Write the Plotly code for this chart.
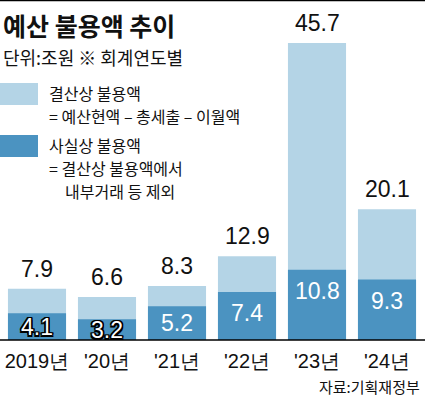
import plotly.graph_objects as go

categories = ["2019년", "'20년", "'21년", "'22년", "'23년", "'24년"]
settled = [7.9, 6.6, 8.3, 12.9, 45.7, 20.1]
actual = [4.1, 3.2, 5.2, 7.4, 10.8, 9.3]
outlined = [True, True, False, False, False, False]

legend_lines = [
    ("결산상 불용액", 48, 92.5),
    ("= 예산현액 – 총세출 – 이월액", 48, 116),
    ("사실상 불용액", 48, 144.5),
    ("= 결산상 불용액에서", 48, 168),
    ("내부거래 등 제외", 64, 191.5),
]

LIGHT = "#B4D4E6"
DARK = "#4B93C1"
NUM_FONT = "Liberation Sans Narrow, Arial Narrow, Liberation Sans, Arial, sans-serif"
KR_FONT = "Noto Sans CJK KR, sans-serif"

W, H = 425, 397
ML, MR, MT, MB = 2, 3, 15, 57
PW, PH = W - ML - MR, H - MT - MB


def px(x):
    return (x - ML) / PW


def py(y):
    return (H - MB - y) / PH


fig = go.Figure()
fig.add_trace(go.Bar(x=categories, y=settled, marker=dict(color=LIGHT, line=dict(width=0)),
                     hoverinfo="skip"))
fig.add_trace(go.Bar(x=categories, y=actual, marker=dict(color=DARK, line=dict(width=0)),
                     hoverinfo="skip"))

ann = []
for c, s, a, o in zip(categories, settled, actual, outlined):
    ann.append(dict(x=c, y=s, xref="x", yref="y", text=f"{s}", showarrow=False,
                    yanchor="bottom", yshift=5,
                    font=dict(family=NUM_FONT, size=23, color="#111")))
    shadow = ("-1.5px -1.5px 0 #000, 1.5px -1.5px 0 #000, -1.5px 1.5px 0 #000, 1.5px 1.5px 0 #000,"
              " 0 1.5px 0 #000, 0 -1.5px 0 #000, 1.5px 0 0 #000, -1.5px 0 0 #000") if o else "none"
    ann.append(dict(x=c, y=max(a / 2, a - 3.3), xref="x", yref="y", text=f"{a}", showarrow=False,
                    yanchor="middle",
                    font=dict(family=NUM_FONT, size=23, color="white", shadow=shadow)))

ann += [
    dict(x=px(1), y=py(25), xref="paper", yref="paper", text="<b>예산 불용액 추이</b>", showarrow=False,
         xanchor="left", yanchor="middle", font=dict(family=KR_FONT, size=25, color="#111")),
    dict(x=px(1), y=py(57), xref="paper", yref="paper", text="단위:조원 ※ 회계연도별", showarrow=False,
         xanchor="left", yanchor="middle", font=dict(family=KR_FONT, size=18, color="#111")),
    dict(x=px(422), y=py(386), xref="paper", yref="paper", text="자료:기획재정부", showarrow=False,
         xanchor="right", yanchor="middle", font=dict(family=KR_FONT, size=15, color="#111")),
]
for txt, lx, ly in legend_lines:
    ann.append(dict(x=px(lx), y=py(ly), xref="paper", yref="paper", text=txt, showarrow=False,
                    xanchor="left", yanchor="middle", borderpad=0,
                    font=dict(family=KR_FONT, size=16, color="#111")))

shapes = [
    dict(type="rect", xref="paper", yref="paper", x0=px(0), x1=px(38), y0=py(105), y1=py(83),
         fillcolor=LIGHT, line=dict(width=0)),
    dict(type="rect", xref="paper", yref="paper", x0=px(0), x1=px(38), y0=py(157), y1=py(135),
         fillcolor=DARK, line=dict(width=0)),
    dict(type="line", xref="paper", yref="paper", x0=px(0), x1=px(425), y0=py(340), y1=py(340),
         line=dict(color="black", width=1.5)),
    dict(type="line", xref="paper", yref="paper", x0=px(0), x1=px(425), y0=py(0.5), y1=py(0.5),
         line=dict(color="black", width=1.5)),
]

fig.update_layout(
    width=W, height=H,
    margin=dict(l=ML, r=MR, t=MT, b=MB),
    paper_bgcolor="white", plot_bgcolor="white",
    barmode="overlay", bargap=0.17,
    showlegend=False,
    annotations=ann, shapes=shapes,
    xaxis=dict(type="category", showline=False, showgrid=False, ticks="",
               tickfont=dict(family=NUM_FONT, size=20, color="#111"),
               ticklabelstandoff=7, fixedrange=True),
    yaxis=dict(range=[0, 50], visible=False, showgrid=False, fixedrange=True),
)

fig.write_html("out.html", config={"displayModeBar": False},
               post_script="document.body.style.margin='0';document.body.style.overflow='hidden';")
